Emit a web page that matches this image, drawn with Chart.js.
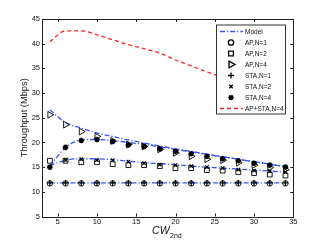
<!DOCTYPE html>
<html>
<head>
<meta charset="utf-8">
<script src="https://cdn.jsdelivr.net/npm/chart.js@4/dist/chart.umd.min.js"></script>
<style>
  html, body { margin: 0; padding: 0; background: #fff; }
  #myChart { display: block; }
</style>
</head>
<body>
<canvas id="myChart" width="324" height="244"></canvas>
<script>
// valores
var cw = [4, 6, 8, 10, 12, 14, 16, 18, 20, 22, 24, 26, 28, 30, 32, 34];
var apN1 = [11.7, 11.7, 11.7, 11.7, 11.7, 11.7, 11.7, 11.7, 11.7, 11.7, 11.7, 11.7, 11.7, 11.7, 11.7, 11.7];
var staN1 = [11.8, 11.8, 11.8, 11.8, 11.8, 11.8, 11.8, 11.8, 11.8, 11.8, 11.8, 11.8, 11.8, 11.8, 11.8, 11.8];
var apN2 = [16.3, 16.3, 16.0, 16.0, 15.6, 15.4, 15.4, 15.2, 14.8, 14.8, 14.4, 14.3, 14.0, 13.8, 13.5, 13.3];
var staN2 = [15.0, 16.4, 16.6, 16.4, 16.4, 16.1, 15.8, 15.5, 15.4, 15.2, 15.0, 14.8, 14.5, 14.3, 14.2, 14.0];
var apN4 = [25.6, 23.6, 22.2, 21.2, 20.3, 19.6, 19.2, 18.6, 17.9, 17.2, 16.6, 16.4, 15.9, 15.4, 14.9, 14.5];
var staN4 = [15.0, 19.0, 20.4, 20.6, 20.2, 19.5, 19.2, 18.7, 18.2, 17.7, 17.2, 16.7, 16.3, 15.8, 15.4, 15.0];
var modelN1 = [11.8, 11.8, 11.8, 11.8, 11.8, 11.8, 11.8, 11.8, 11.8, 11.8, 11.8, 11.8, 11.8, 11.8, 11.8, 11.8];
var modelN2 = [15.3, 16.4, 16.7, 16.7, 16.5, 16.2, 15.9, 15.7, 15.5, 15.2, 15.0, 14.8, 14.6, 14.4, 14.2, 14.0];
var modelAP4 = [26.6, 24.0, 22.9, 21.9, 21.2, 20.5, 19.9, 19.3, 18.7, 18.2, 17.6, 17.1, 16.6, 16.1, 15.6, 15.1];
var modelSTA4 = [15.2, 19.0, 20.5, 20.6, 20.4, 20.0, 19.6, 19.1, 18.6, 18.1, 17.6, 17.1, 16.6, 16.1, 15.6, 15.1];
var total4 = [40.4, 42.6, 42.6, 41.8, 40.8, 39.8, 39.0, 38.1, 36.7, 35.5, 34.3, 33.2, 32.3, 31.4, 30.6, 29.8];

var xTicks = [5, 10, 15, 20, 25, 30, 35];
var yTicks = [5, 10, 15, 20, 25, 30, 35, 40, 45];

var BLUE = 'rgb(55,85,255)';
var RED = 'rgb(255,35,35)';
var DASHDOT = [5, 2, 1.2, 2];

function pts(arr) {
	return cw.map(function(x, i){ return {x: x, y: arr[i]}; });
}

function marcador(label, arr, style, r, rot, bw) {
	return {
		label: label, data: pts(arr), showLine: false,
		pointStyle: style, pointRadius: r, pointRotation: rot || 0,
		pointBorderWidth: bw || 0.9, pointBorderColor: '#000',
		pointBackgroundColor: 'rgba(0,0,0,0)'
	};
}

function linea(label, arr, color, dash) {
	return {
		label: label, data: pts(arr), showLine: true,
		borderColor: color, borderWidth: 1.3, borderDash: dash,
		pointRadius: 0, cubicInterpolationMode: 'monotone', fill: false
	};
}

var datasets = [
	marcador('AP,N=1', apN1, 'circle', 2.7),
	marcador('AP,N=2', apN2, 'rect', 3.4),
	marcador('AP,N=4', apN4, 'triangle', 3.9, 90),
	marcador('STA,N=1', staN1, 'cross', 3, 0, 1.2),
	marcador('STA,N=2', staN2, 'crossRot', 2.4, 0, 1.2),
	marcador('STA,N=4', staN4, 'star', 2.8, 0, 1.6),
	linea('Model', modelN1, BLUE, DASHDOT),
	linea('Model', modelN2, BLUE, DASHDOT),
	linea('Model', modelAP4, BLUE, DASHDOT),
	linea('Model', modelSTA4, BLUE, DASHDOT),
	linea('AP+STA,N=4', total4, RED, [4, 3])
];

// leyenda dentro del area, tapa la linea roja
var leyenda = {
	id: 'leyenda',
	afterDatasetsDraw: function(chart) {
		var ctx = chart.ctx;
		var ds = chart.data.datasets;
		var filas = [6, 0, 1, 2, 3, 4, 5, 10];
		var bx = 216, by = 24.5, bw = 69, bh = 89;
		ctx.save();
		ctx.fillStyle = '#fff';
		ctx.fillRect(bx, by, bw, bh);
		ctx.strokeStyle = '#333';
		ctx.lineWidth = 1;
		ctx.strokeRect(bx + 0.5, by + 0.5, bw, bh);
		ctx.font = '6.5px "Liberation Sans", Arial, sans-serif';
		ctx.textBaseline = 'middle';
		ctx.textAlign = 'left';
		filas.forEach(function(k, i){
			var d = ds[k];
			var y = by + 7 + i * 11;
			if (d.showLine) {
				ctx.strokeStyle = d.borderColor;
				ctx.lineWidth = d.borderWidth;
				ctx.setLineDash(d.borderDash);
				ctx.beginPath();
				ctx.moveTo(220, y);
				ctx.lineTo(243, y);
				ctx.stroke();
				ctx.setLineDash([]);
			} else if (Chart.helpers && Chart.helpers.drawPoint) {
				ctx.strokeStyle = '#000';
				ctx.fillStyle = 'rgba(0,0,0,0)';
				Chart.helpers.drawPoint(ctx, {
					pointStyle: d.pointStyle, radius: d.pointRadius,
					rotation: d.pointRotation, borderWidth: d.pointBorderWidth
				}, 231, y);
			}
			ctx.fillStyle = '#111';
			ctx.fillText(d.label, 245, y + 0.5);
		});
		ctx.restore();
	}
};

// marco tipo matlab con ticks hacia dentro y titulo del eje x
var marco = {
	id: 'marco',
	afterDraw: function(chart) {
		var ctx = chart.ctx;
		var a = chart.chartArea;
		var sx = chart.scales.x, sy = chart.scales.y;
		ctx.save();
		ctx.strokeStyle = '#222';
		ctx.lineWidth = 1;
		ctx.strokeRect(Math.round(a.left) + 0.5, Math.round(a.top) + 0.5,
			Math.round(a.right - a.left), Math.round(a.bottom - a.top));
		ctx.beginPath();
		xTicks.forEach(function(v){
			var px = Math.round(sx.getPixelForValue(v)) + 0.5;
			ctx.moveTo(px, a.bottom); ctx.lineTo(px, a.bottom - 3);
			ctx.moveTo(px, a.top); ctx.lineTo(px, a.top + 3);
		});
		yTicks.forEach(function(v){
			var py = Math.round(sy.getPixelForValue(v)) + 0.5;
			ctx.moveTo(a.left, py); ctx.lineTo(a.left + 3, py);
			ctx.moveTo(a.right, py); ctx.lineTo(a.right - 3, py);
		});
		ctx.stroke();
		// CW_2nd
		ctx.fillStyle = '#111';
		ctx.textBaseline = 'alphabetic';
		ctx.textAlign = 'left';
		ctx.font = 'italic 10.5px "Liberation Sans", Arial, sans-serif';
		var w1 = ctx.measureText('CW').width;
		ctx.font = '7px "Liberation Sans", Arial, sans-serif';
		var w2 = ctx.measureText('2nd').width;
		var x0 = (a.left + a.right) / 2 - (w1 + w2) / 2 - 1;
		ctx.font = 'italic 10.5px "Liberation Sans", Arial, sans-serif';
		ctx.fillText('CW', x0, 234);
		ctx.font = '7px "Liberation Sans", Arial, sans-serif';
		ctx.fillText('2nd', x0 + w1 + 0.5, 237.5);
		ctx.restore();
	}
};

Chart.defaults.font.family = '"Liberation Sans", Arial, sans-serif';
Chart.defaults.color = '#111';

var chart = new Chart(document.getElementById('myChart').getContext('2d'), {
	type: 'scatter',
	data: { datasets: datasets },
	options: {
		responsive: false,
		devicePixelRatio: 1,
		animation: false,
		layout: { padding: { left: 0, right: 30.7, top: 19, bottom: 0 } },
		plugins: { legend: { display: false }, tooltip: { enabled: false } },
		scales: {
			x: {
				type: 'linear', min: 3, max: 35,
				grid: { display: false, drawTicks: false },
				border: { display: false },
				ticks: { font: { size: 7.5 }, padding: 1, maxRotation: 0 },
				afterBuildTicks: function(s){ s.ticks = xTicks.map(function(v){ return {value: v}; }); },
				afterFit: function(s){ s.height = 27.5; }
			},
			y: {
				type: 'linear', min: 5, max: 45,
				grid: { display: false, drawTicks: false },
				border: { display: false },
				ticks: { font: { size: 7.5 }, padding: 2 },
				afterBuildTicks: function(s){ s.ticks = yTicks.map(function(v){ return {value: v}; }); },
				title: {
					display: true, text: 'Throughput (Mbps)',
					font: { size: 9.3 }, padding: { top: 19, bottom: 0 }
				},
				afterFit: function(s){ s.width = 42; }
			}
		}
	},
	plugins: [leyenda, marco]
});
</script>
</body>
</html>
